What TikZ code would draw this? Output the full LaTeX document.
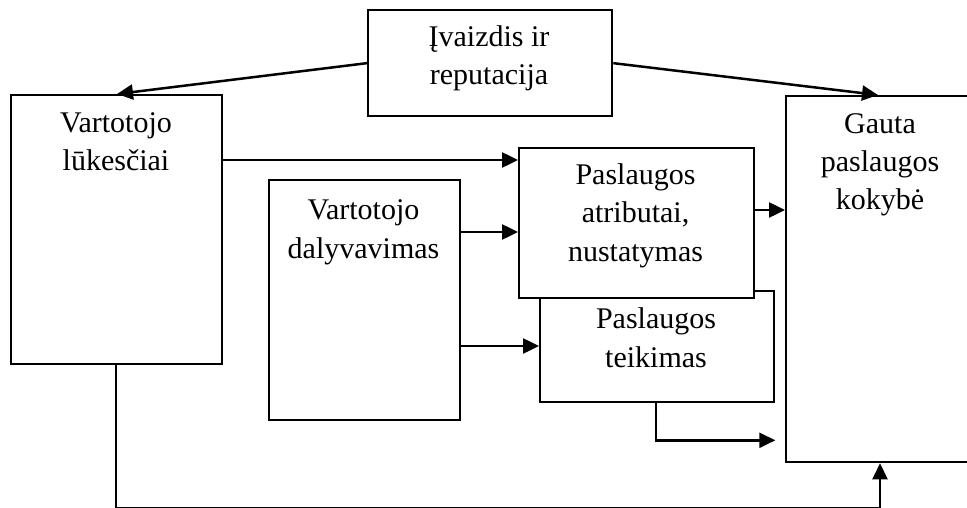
\documentclass[tikz,border=0pt]{standalone}
\usepackage{fontspec}
\setmainfont{Liberation Serif}
\usetikzlibrary{arrows.meta,calc}
\begin{document}
\begin{tikzpicture}[x=1pt,y=-1pt,
  box/.style={draw, line width=2.3pt, fill=white, inner sep=0pt, anchor=north west},
  txt/.style={align=center, font=\fontsize{30}{38.5}\selectfont, anchor=base, inner sep=0pt},
  conn/.style={line width=2.5pt, -{Triangle[length=16pt,width=15pt]}}]
\useasboundingbox (0,0) rectangle (967,508);
\begin{scope}
\clip (0,0) rectangle (967,508);
% boxes
\node (img)  [box, minimum width=244pt, minimum height=106pt] at (367,9) {};
\node (lk)   [box, minimum width=211pt, minimum height=269pt] at (10,94) {};
\node (gq)   [box, minimum width=190pt, minimum height=366pt] at (785,95) {};
\node (dal)  [box, minimum width=191pt, minimum height=240pt] at (268,179) {};
\node (teik) [box, minimum width=234pt, minimum height=111pt] at (539,290) {};
\node (atr)  [box, minimum width=235pt, minimum height=150pt] at (518,147) {};
% labels (anchored at the baseline of their last line)
\node (imgt)  [txt] at (489,85)  {Įvaizdis ir\\reputacija};
\node (lkt)   [txt] at (116,171) {Vartotojo\\lūkesčiai};
\node (gqt)   [txt] at (880,210) {Gauta\\paslaugos\\kokybė};
\node (dalt)  [txt] at (363.5,258) {Vartotojo\\dalyvavimas};
\node (atrt)  [txt] at (635.5,261) {Paslaugos\\atributai,\\nustatymas};
\node (teikt) [txt] at (656,367) {Paslaugos\\teikimas};
% connectors
\draw[conn] (img.west) -- ($(lk.north west)+(107,0)$);
\draw[conn] (img.east) -- ($(gq.north west)+(93,0)$);
\draw[conn] ($(lk.north east)+(0,66)$) -- ($(atr.north west)+(0,13)$);
\draw[conn] ($(dal.north east)+(0,53)$) -- ($(atr.north west)+(0,85)$);
\draw[conn] ($(dal.north east)+(0,167)$) -- ($(teik.north west)+(0,56)$);
\draw[conn] ($(atr.north east)+(0,63)$) -- ($(gq.north west)+(0,115)$);
\coordinate (teikend) at ($(teik.south east)+(0,37)$);
\draw[conn] ($(teik.south west)+(117,0)$) |- (teikend);
\draw[conn] ($(lk.south west)+(106,0)$) -- ($(lk.south west)+(106,143)$) -| ($(gq.south west)+(95,0)$);
\end{scope}
\end{tikzpicture}
\end{document}
